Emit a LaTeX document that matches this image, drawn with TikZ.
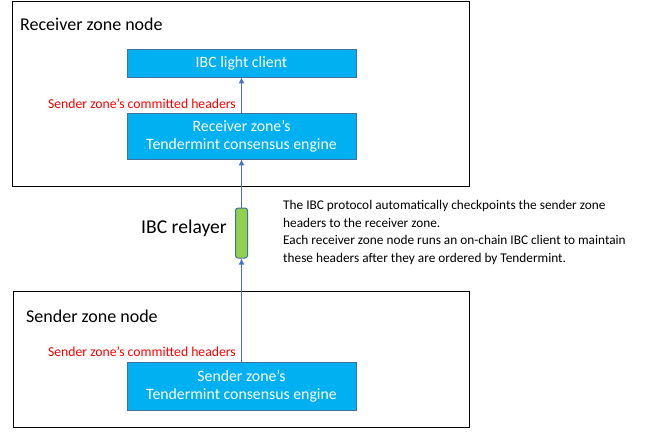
\documentclass[tikz,border=0pt]{standalone}
\usepackage{fontspec}
\setmainfont{Carlito}
\usetikzlibrary{arrows.meta}
\definecolor{boxblue}{HTML}{00B0F0}
\definecolor{boxedge}{HTML}{41719C}
\definecolor{arrowblue}{HTML}{4472C4}
\definecolor{relgreen}{HTML}{92D050}
\definecolor{hdrred}{HTML}{FF0000}
\begin{document}
\begin{tikzpicture}[x=1pt,y=-1pt,
  zone/.style={draw=black,line width=1.2pt},
  bluebox/.style={draw=boxedge,fill=boxblue,line width=0.6pt,text=white,font=\fontsize{15.8}{18}\selectfont,align=center,minimum width=229pt,inner sep=0pt},
  flow/.style={draw=arrowblue,line width=1.8pt,-{Latex[length=6pt,width=6pt]}},
  redlbl/.style={text=hdrred,font=\fontsize{13.7}{15}\selectfont,anchor=east,inner sep=0pt},
  zonelbl/.style={font=\fontsize{18}{20}\selectfont,anchor=west,inner sep=0pt}]
\useasboundingbox (0,0) rectangle (657,432);
\node[zone,minimum width=457pt,minimum height=185pt,anchor=north west] (recv) at (12,1) {};
\node[zone,minimum width=456pt,minimum height=136pt,anchor=north west] (send) at (13,291) {};
\node[zonelbl] (recvlbl) at (20,24) {Receiver zone node};
\node[zonelbl] (sendlbl) at (26,316) {Sender zone node};
\node[bluebox,minimum height=28pt] (lc) at (241.5,63) {IBC light client};
\node[bluebox,minimum height=46pt] (reng) at (241.5,136) {Receiver zone’s\\Tendermint consensus engine};
\node[bluebox,minimum height=48pt] (seng) at (241.5,386) {Sender zone’s\\Tendermint consensus engine};
\node[draw=boxedge,fill=relgreen,rounded corners=2.5pt,minimum width=12pt,minimum height=50pt,inner sep=0pt,line width=1pt] (rel) at (241.5,233) {};
\node[font=\fontsize{19.6}{22}\selectfont,inner sep=0pt] (rellbl) at (184,228) {IBC relayer};
\node[redlbl] (rh) at (236,104) {Sender zone’s committed headers};
\node[redlbl] (sh) at (236,352) {Sender zone’s committed headers};
\node[anchor=north west,inner sep=0pt,align=left,font=\fontsize{13.3}{17.7}\selectfont] (desc) at (283,200) {The IBC protocol automatically checkpoints the sender zone\\headers to the receiver zone.\\Each receiver zone node runs an on-chain IBC client to maintain\\these headers after they are ordered by Tendermint.};
\draw[flow] (reng.north) -- (lc.south);
\draw[flow] (rel.north) -- (reng.south);
\draw[flow] (seng.north) -- (rel.south);
\end{tikzpicture}
\end{document}
